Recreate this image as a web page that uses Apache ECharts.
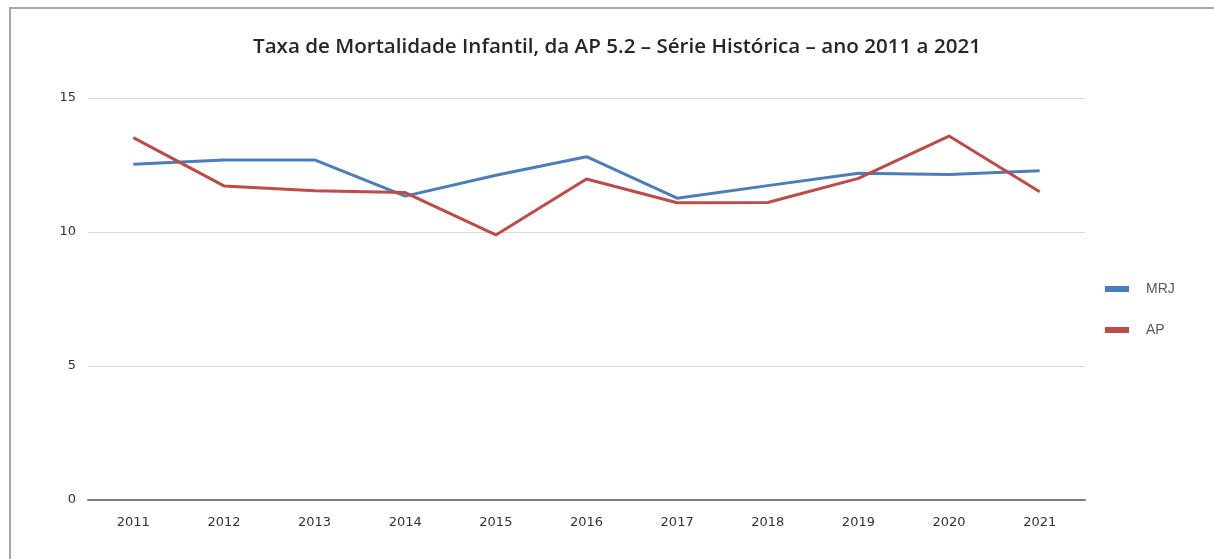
<!DOCTYPE html>
<html>
<head>
<meta charset="utf-8">
<style>
  html, body { margin: 0; padding: 0; background: #fff; }
  #frame { position: absolute; left: 0; top: 0; width: 1214px; height: 559px; }
  #border { position: absolute; left: 9px; top: 7px; width: 1205px; height: 552px;
    border-left: 2px solid #a6a6a6; border-top: 2px solid #a6a6a6; box-sizing: border-box; }
  #chart { position: absolute; left: 0; top: 0; width: 1214px; height: 559px; }
</style>
<script src="https://cdn.jsdelivr.net/npm/echarts@6/dist/echarts.min.js"></script>
</head>
<body>
<div id="frame">
  <div id="border"></div>
  <div id="chart"></div>
</div>
<script>
const years = ['2011', '2012', '2013', '2014', '2015', '2016', '2017', '2018', '2019', '2020', '2021']
const mrj = [12.53, 12.69, 12.69, 11.34, 12.12, 12.81, 11.26, 11.73, 12.19, 12.15, 12.29]
const ap = [13.52, 11.72, 11.54, 11.47, 9.89, 11.98, 11.09, 11.1, 12.0, 13.58, 11.5]

const chart = echarts.init(document.getElementById('chart'))

chart.setOption({
  animation: false,
  title: {
    text: 'Taxa de Mortalidade Infantil, da AP 5.2 – Série Histórica – ano 2011 a 2021',
    left: 248,
    top: 32,
    textStyle: {
      fontFamily: 'Open Sans',
      fontSize: 20.6,
      fontWeight: 600,
      color: '#262626'
    }
  },
  legend: {
    orient: 'vertical',
    left: 1100,
    top: 277,
    itemGap: 27,
    itemWidth: 24,
    itemHeight: 6,
    icon: 'rect',
    textStyle: { fontFamily: 'Liberation Sans', fontSize: 14, color: '#595959', padding: [0, 0, 0, 12] },
    data: ['MRJ', 'AP']
  },
  grid: {
    left: 88,
    right: 129,
    top: 98,
    bottom: 59
  },
  xAxis: {
    type: 'category',
    data: years,
    boundaryGap: true,
    axisLine: { lineStyle: { color: '#7f7f7f', width: 2 } },
    axisTick: { show: false },
    axisLabel: { fontFamily: 'DejaVu Sans', fontSize: 13, color: '#333333', margin: 16 }
  },
  yAxis: {
    type: 'value',
    min: 0,
    max: 15,
    interval: 5,
    axisLine: { show: false },
    axisTick: { show: false },
    axisLabel: { fontFamily: 'DejaVu Sans', fontSize: 13, color: '#333333', margin: 12 },
    splitLine: { lineStyle: { color: '#d9d9d9', width: 1 } }
  },
  series: [
    {
      name: 'MRJ',
      type: 'line',
      data: mrj,
      symbol: 'none',
      itemStyle: { color: '#4a7ebb' },
      lineStyle: { color: '#4a7ebb', width: 3 }
    },
    {
      name: 'AP',
      type: 'line',
      data: ap,
      symbol: 'none',
      itemStyle: { color: '#be4b48' },
      lineStyle: { color: '#be4b48', width: 3 }
    }
  ]
})
</script>
</body>
</html>
